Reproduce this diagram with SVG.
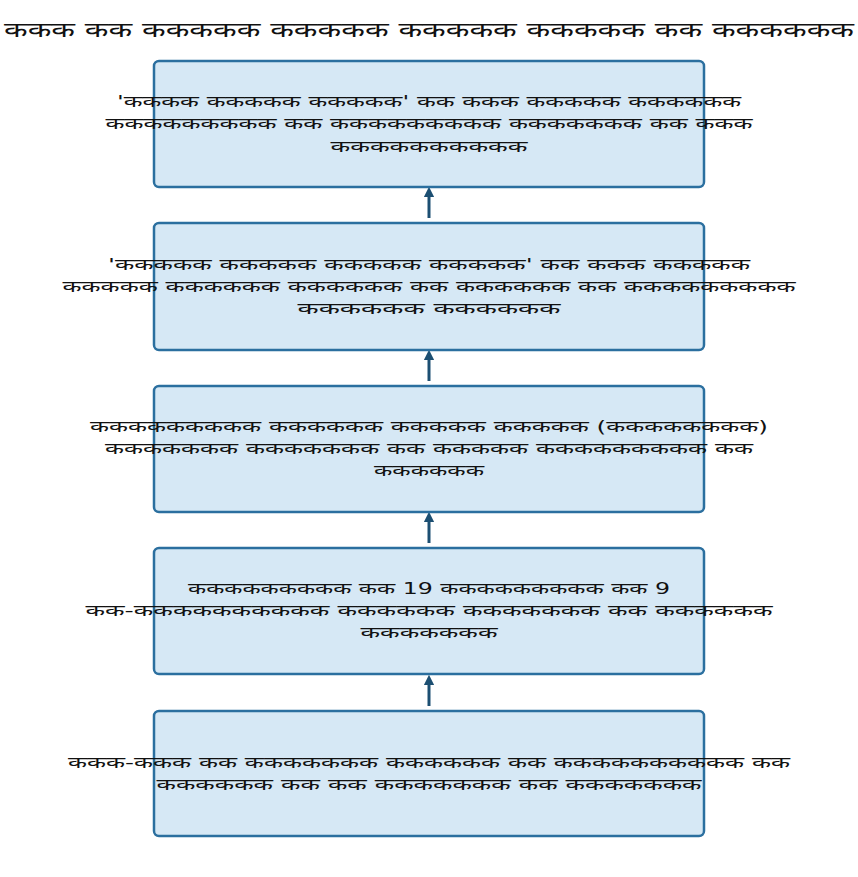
<svg xmlns="http://www.w3.org/2000/svg" width="858" height="877" viewBox="0 0 858 877">
<defs>
<style>
.box{fill:#d6e8f5;stroke:#2b6f9f;stroke-width:2.5}
.t{font-family:"DejaVu Sans","Noto Sans",sans-serif;font-size:16px;fill:#111;text-anchor:middle}
.title{font-family:"DejaVu Sans","Noto Sans",sans-serif;font-size:20px;fill:#111;text-anchor:middle}
.arr{stroke:#1c4f72;stroke-width:3;fill:none;marker-end:url(#ah)}
</style>
<marker id="ah" viewBox="0 0 10 10" refX="5" refY="5" markerWidth="3.5" markerHeight="3.5" orient="auto">
<path d="M0,0 L10,5 L0,10 z" fill="#1c4f72"/>
</marker>
</defs>
<rect width="858" height="877" fill="#fff"/>
<text class="title" x="429" y="37" textLength="850" lengthAdjust="spacingAndGlyphs">ककक कक ककककक ककककक ककककक ककककक कक कककककक</text>
<g id="connectors">
<line class="arr" x1="429" y1="218" x2="429" y2="192"/>
<line class="arr" x1="429" y1="381" x2="429" y2="355"/>
<line class="arr" x1="429" y1="543" x2="429" y2="517"/>
<line class="arr" x1="429" y1="706" x2="429" y2="680"/>
</g>
<g id="node1">
<rect class="box" x="154" y="61" width="550" height="126" rx="5"/>
<text class="t" x="429" y="107" textLength="624" lengthAdjust="spacingAndGlyphs">'कककक ककककक ककककक' कक ककक ककककक कककककक</text>
<text class="t" x="429" y="129" textLength="647" lengthAdjust="spacingAndGlyphs">ककककककककक कक ककककककककक ककककककक कक ककक</text>
<text class="t" x="429" y="152" textLength="197" lengthAdjust="spacingAndGlyphs">कककककककककक</text>
</g>
<g id="node2">
<rect class="box" x="154" y="223" width="550" height="127" rx="5"/>
<text class="t" x="429" y="270" textLength="642" lengthAdjust="spacingAndGlyphs">'ककककक ककककक ककककक ककककक' कक ककक ककककक</text>
<text class="t" x="429" y="292" textLength="733" lengthAdjust="spacingAndGlyphs">ककककक कककककक कककककक कक कककककक कक ककककककककक</text>
<text class="t" x="429" y="314" textLength="263" lengthAdjust="spacingAndGlyphs">कककककक कककककक</text>
</g>
<g id="node3">
<rect class="box" x="154" y="386" width="550" height="126" rx="5"/>
<text class="t" x="429" y="432" textLength="678" lengthAdjust="spacingAndGlyphs">ककककककककक कककककक ककककक ककककक (कककककककक)</text>
<text class="t" x="429" y="454" textLength="648" lengthAdjust="spacingAndGlyphs">ककककककक ककककककक कक ककककक ककककककककक कक</text>
<text class="t" x="429" y="476" textLength="110" lengthAdjust="spacingAndGlyphs">कककककक</text>
</g>
<g id="node4">
<rect class="box" x="154" y="548" width="550" height="126" rx="5"/>
<text class="t" x="429" y="594" textLength="482" lengthAdjust="spacingAndGlyphs">ककककककककक कक 19 ककककककककक कक 9</text>
<text class="t" x="429" y="616" textLength="687" lengthAdjust="spacingAndGlyphs">कक-कककककककककक कककककक ककककककक कक कककककक</text>
<text class="t" x="429" y="638" textLength="137" lengthAdjust="spacingAndGlyphs">ककककककक</text>
</g>
<g id="node5">
<rect class="box" x="154" y="711" width="550" height="125" rx="5"/>
<text class="t" x="429" y="768" textLength="722" lengthAdjust="spacingAndGlyphs">ककक-ककक कक ककककककक कककककक कक कककककककककक कक</text>
<text class="t" x="429" y="790" textLength="545" lengthAdjust="spacingAndGlyphs">कककककक कक कक ककककककक कक ककककककक</text>
</g>
</svg>
